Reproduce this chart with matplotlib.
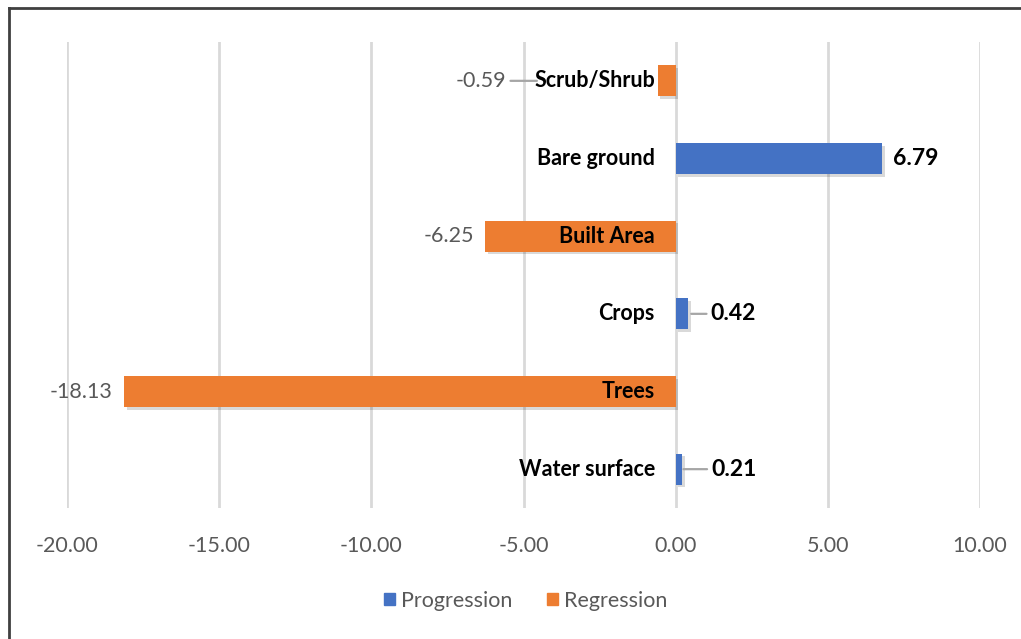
import matplotlib
matplotlib.use("Agg")
import matplotlib.pyplot as plt
import matplotlib.patheffects as pe
from matplotlib.patches import Rectangle
from matplotlib.lines import Line2D

categories = ["Scrub/Shrub", "Bare ground", "Built Area", "Crops", "Trees", "Water surface"]
values = [-0.59, 6.79, -6.25, 0.42, -18.13, 0.21]
series_names = ["Progression", "Regression"]
x_ticks = [-20, -15, -10, -5, 0, 5, 10]

BLUE = "#4472C4"
ORANGE = "#ED7D31"
GRID = "#D9D9D9"
GRAYTXT = "#595959"

# label styling (offsets in points, leader-line flags)
label_dx = [-109, 8, -8, 16, -8, 21]
leader = [True, False, False, True, False, True]
leader_shrinkB = [87, 0, 0, 2, 0, 1]

plt.rcParams['font.family'] = ['Lato', 'DejaVu Sans']

fig = plt.figure(figsize=(10.21, 6.39), dpi=100)
ax = fig.add_axes([67/1021, 1-508/639, (980-67)/1021, (508-42)/639])

ypos = list(range(len(categories)))
colors = [BLUE if v >= 0 else ORANGE for v in values]
bars = ax.barh(ypos, values, height=0.4, color=colors, zorder=3)
for b in bars:
    b.set_path_effects([pe.SimplePatchShadow(offset=(2, -2), shadow_rgbFace='black', alpha=0.15), pe.Normal()])

ax.set_xlim(-20, 10)
ax.set_ylim(len(categories) - 0.5, -0.5)
ax.set_xticks(x_ticks)
ax.set_xticklabels([f"{t:.2f}" for t in x_ticks], color=GRAYTXT, fontsize=15.5)
ax.tick_params(axis='x', length=0, pad=20)
ax.set_yticks([])
ax.grid(axis='x', color=GRID, linewidth=2, zorder=0)
for s in ax.spines.values():
    s.set_visible(False)

for i, (cat, v) in enumerate(zip(categories, values)):
    ax.annotate(cat, xy=(0, i), xytext=(-15, 0), textcoords='offset points',
                ha='right', va='center', fontsize=15.5, fontweight='bold', color='black', zorder=5)
    if v >= 0:
        kw = dict(ha='left', fontweight='bold', color='black', fontsize=16.5)
    else:
        kw = dict(ha='right', fontweight='normal', color=GRAYTXT, fontsize=15.5)
    arrow = None
    if leader[i]:
        arrow = dict(arrowstyle='-', color='#A6A6A6', lw=1.6, shrinkA=1, shrinkB=leader_shrinkB[i])
    ax.annotate(f"{v:.2f}", xy=(v, i), xytext=(label_dx[i], 0), textcoords='offset points',
                va='center', arrowprops=arrow, zorder=5, **kw)

handles = [Rectangle((0, 0), 1, 1, color=BLUE), Rectangle((0, 0), 1, 1, color=ORANGE)]
fig.legend(handles, series_names, loc='center', bbox_to_anchor=(0.515, 1-601/639), ncol=2,
           frameon=False, fontsize=15.5, labelcolor=GRAYTXT, handlelength=0.5, handleheight=0.5,
           handletextpad=0.3, columnspacing=1.6)

fig.add_artist(Line2D([9/1021, 1.0], [1-8/639, 1-8/639], transform=fig.transFigure, color='#404040', lw=2))
fig.add_artist(Line2D([9/1021, 9/1021], [0, 1-8/639], transform=fig.transFigure, color='#404040', lw=2))

fig.savefig("out.png", dpi=100)
